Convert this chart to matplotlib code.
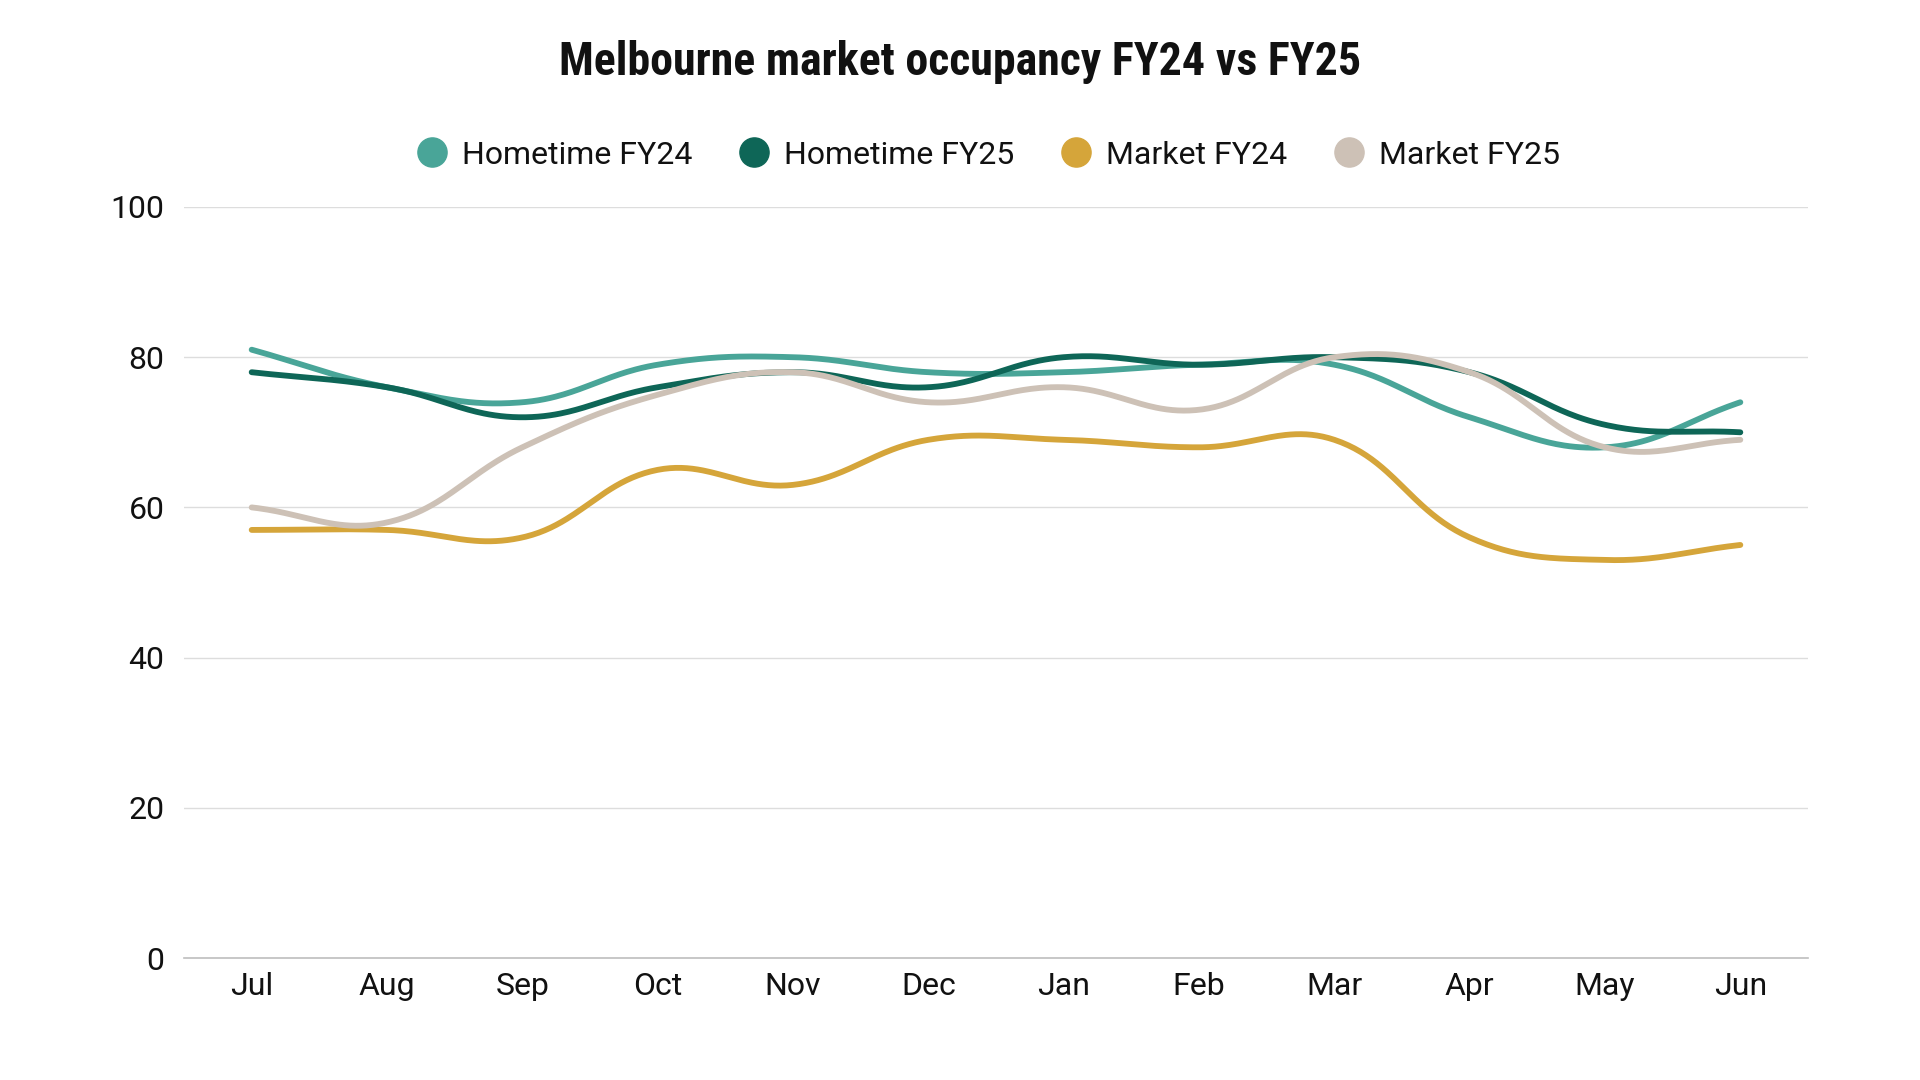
import numpy as np
import matplotlib
matplotlib.use("Agg")
import matplotlib.pyplot as plt
from matplotlib import font_manager as fm
from matplotlib.lines import Line2D

# ---------------- data ----------------
months = ["Jul", "Aug", "Sep", "Oct", "Nov", "Dec", "Jan", "Feb", "Mar", "Apr", "May", "Jun"]
hometime_fy24 = [81, 76, 74, 79, 80, 78, 78, 79, 79, 72, 68, 74]
hometime_fy25 = [78, 76, 72, 76, 78, 76, 80, 79, 80, 78, 71, 70]
market_fy24 = [57, 57, 56, 65, 63, 69, 69, 68, 69, 56, 53, 55]
market_fy25 = [60, 58, 68, 75, 78, 74, 76, 73, 80, 78, 68, 69]
series_names = ["Hometime FY24", "Hometime FY25", "Market FY24", "Market FY25"]
y_ticks = [0, 20, 40, 60, 80, 100]
title_text = "Melbourne market occupancy FY24 vs FY25"

colors = ["#49A598", "#0E6657", "#D5A53A", "#CDC1B6"]

# ---------------- fonts ----------------
available = {f.name for f in fm.fontManager.ttflist}

def pick(*names):
    for n in names:
        if n in available:
            return n
    return "DejaVu Sans"

title_font = pick("Liberation Sans Narrow", "Roboto Condensed", "Open Sans", "Lato")
body_font = pick("Roboto", "Lato", "Open Sans", "DejaVu Sans")

# ---------------- figure ----------------
W, H = 1920, 1080
fig = plt.figure(figsize=(W / 100, H / 100), dpi=100)
fig.patch.set_facecolor("white")

left, right, top, bottom = 184, 1808, 207, 958
ax = fig.add_axes([left / W, 1 - bottom / H, (right - left) / W, (bottom - top) / H])
ax.set_xlim(-0.5, len(months) - 0.5)
ax.set_ylim(0, 100)

for s in ["top", "right", "left"]:
    ax.spines[s].set_visible(False)
ax.spines["bottom"].set_color("#BDBDBD")
ax.spines["bottom"].set_linewidth(1.2)

ax.set_yticks(y_ticks)
ax.set_yticklabels([str(v) for v in y_ticks])
ax.set_xticks(range(len(months)))
ax.set_xticklabels(months)
ax.tick_params(axis="both", length=0, labelsize=23, colors="#111111")
ax.tick_params(axis="y", pad=14)
ax.tick_params(axis="x", pad=10)
for lab in ax.get_xticklabels() + ax.get_yticklabels():
    lab.set_fontfamily(body_font)

for v in y_ticks[1:]:
    ax.axhline(v, color="#DDDDDD", lw=1.0, zorder=0)


# Chart.js-like cubic spline (tension 0.4), computed in pixel space
def spline_xy(xs, ys, tension=0.4, n=50):
    pts = ax.transData.transform(np.column_stack([xs, ys]))
    N = len(pts)
    prev_cp = np.zeros_like(pts)
    next_cp = np.zeros_like(pts)
    for i in range(N):
        p0 = pts[max(i - 1, 0)]
        p1 = pts[i]
        p2 = pts[min(i + 1, N - 1)]
        d01 = np.hypot(*(p1 - p0))
        d12 = np.hypot(*(p2 - p1))
        tot = d01 + d12
        s01 = d01 / tot if tot else 0
        s12 = d12 / tot if tot else 0
        prev_cp[i] = p1 - tension * s01 * (p2 - p0)
        next_cp[i] = p1 + tension * s12 * (p2 - p0)
    t = np.linspace(0, 1, n)[:, None]
    segs = []
    for i in range(N - 1):
        P0, P1, P2, P3 = pts[i], next_cp[i], prev_cp[i + 1], pts[i + 1]
        b = ((1 - t) ** 3) * P0 + 3 * ((1 - t) ** 2) * t * P1 + 3 * (1 - t) * t ** 2 * P2 + t ** 3 * P3
        segs.append(b if i == 0 else b[1:])
    curve = np.vstack(segs)
    return ax.transData.inverted().transform(curve)


x_idx = np.arange(len(months))
all_series = [hometime_fy24, hometime_fy25, market_fy24, market_fy25]
for vals, col in zip(all_series, colors):
    c = spline_xy(x_idx, np.array(vals, dtype=float))
    ax.plot(c[:, 0], c[:, 1], color=col, lw=4.2, solid_capstyle="round",
            solid_joinstyle="round", zorder=3, clip_on=False)

# title
fig.text(0.5, 1 - 62 / H, title_text, ha="center", va="center",
         fontsize=33, fontweight="bold", fontfamily=title_font, color="#111111")

# legend
handles = [Line2D([], [], marker="o", linestyle="none", markersize=21,
                  markerfacecolor=c, markeredgecolor=c) for c in colors]
leg = fig.legend(handles, series_names, loc="center", ncol=4,
                 bbox_to_anchor=(988 / W, 1 - 155 / H), frameon=False,
                 prop={"family": body_font, "size": 23},
                 handlelength=1.0, handletextpad=0.42, columnspacing=1.45,
                 borderaxespad=0, borderpad=0)
for txt in leg.get_texts():
    txt.set_color("#111111")

fig.savefig("out.png", dpi=100, facecolor="white")
